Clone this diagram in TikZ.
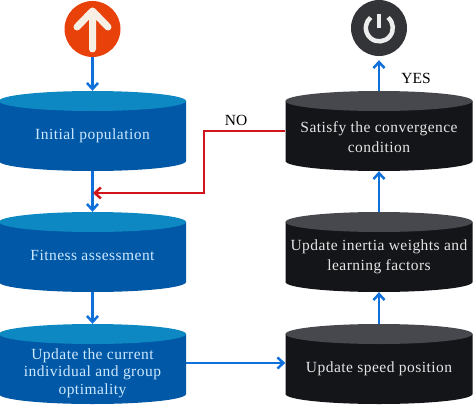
\documentclass[tikz,border=0pt]{standalone}
\usepackage{fontspec}
\setmainfont{Liberation Serif}
\usetikzlibrary{arrows.meta,calc}
\definecolor{bluebody}{HTML}{0058A6}
\definecolor{bluetop}{HTML}{0E88C2}
\definecolor{bluetext}{HTML}{CDE9FF}
\definecolor{darkbody}{HTML}{141518}
\definecolor{darktop}{HTML}{46484D}
\definecolor{link}{HTML}{0F70DC}
\definecolor{redlink}{HTML}{D2141B}
\definecolor{startred}{HTML}{E8420A}
\definecolor{iconwhite}{HTML}{F7EFE4}
\definecolor{enddark}{HTML}{333438}
\tikzset{
  x=1pt,y=-1pt,
  cyl/.style 2 args={shape=rectangle,minimum width=187pt,minimum height=80pt,inner sep=0pt,anchor=center,
    path picture={
      \fill[#1] ($(path picture bounding box.north west)+(0,10)$)
        -- ($(path picture bounding box.south west)+(0,-10)$)
        arc[x radius=93.5pt,y radius=10pt,start angle=180,end angle=360]
        -- ($(path picture bounding box.north east)+(0,10)$) -- cycle;
      \fill[#2] ($(path picture bounding box.north)+(0,10)$) ellipse[x radius=93.5pt,y radius=10pt];
    }},
  bluecyl/.style={cyl={bluebody}{bluetop}},
  darkcyl/.style={cyl={darkbody}{darktop}},
  txt/.style={inner sep=0pt,align=center,font=\fontsize{15.5}{18}\selectfont\addfontfeature{LetterSpace=3}},
  bluetxt/.style={txt,text=bluetext},
  darktxt/.style={txt,text=white!90!black},
  tipped/.style={line width=2.5pt,-{Straight Barb[length=6pt,width=11pt,line width=2.5pt]}},
  conn/.style={draw=link,tipped},
  redconn/.style={draw=redlink,tipped},
  tag/.style={font=\fontsize{15.5}{18}\selectfont,text=black,inner sep=0pt},
  circ/.style={shape=circle,minimum size=56pt,inner sep=0pt}
}
\begin{document}
\begin{tikzpicture}
\useasboundingbox (0,0) rectangle (473,404);
\node[circ,fill=startred] (start) at (92.5,29) {};
\draw[iconwhite,line width=7pt,line cap=round,line join=round] (92.5,49) -- (92.5,13) (77,27) -- (92.5,11) -- (108,27);
\node[circ,fill=enddark] (stop) at (379,28) {};
\draw[white!93!black,line width=4.5pt] (388,17.5) arc[start angle=-50,end angle=230,radius=13.5];
\draw[enddark,line width=8pt] (379,10) -- (379,26);
\draw[white!93!black,line width=4pt] (379,14) -- (379,28);
\node[bluecyl,label={[bluetxt,name=initt,yshift=-5pt]center:Initial population}] (init) at (92.5,131) {};
\node[bluecyl,label={[bluetxt,name=fitt,yshift=-3pt]center:Fitness assessment}] (fit) at (92.5,252) {};
\node[bluecyl,label={[bluetxt,name=updt,yshift=-9pt,font=\fontsize{15.5}{17.3}\selectfont\addfontfeature{LetterSpace=3}]center:{Update the current\\individual and group\\optimality}}] (upd) at (92.5,364) {};
\node[darkcyl,label={[darktxt,name=speedt,yshift=-5pt]center:Update speed position}] (speed) at (379,364) {};
\node[darkcyl,label={[darktxt,name=inertt,yshift=-5pt,font=\fontsize{15.5}{20}\selectfont\addfontfeature{LetterSpace=3}]center:{Update inertia weights and\\learning factors}}] (inert) at (379,252) {};
\node[darkcyl,label={[darktxt,name=satt,yshift=-6pt,font=\fontsize{15.5}{20}\selectfont\addfontfeature{LetterSpace=3}]center:{Satisfy the convergence\\condition}}] (sat) at (379,131) {};
\coordinate (merge) at (93,193);
\draw[conn] (start.south) -- (init.north);
\draw[conn] (init.south) -- (fit.north);
\draw[conn] (fit.south) -- (upd.north);
\draw[conn] ([yshift=1pt]upd.east) -- ([yshift=1pt]speed.west);
\draw[conn] (speed.north) -- (inert.south);
\draw[conn] (inert.north) -- (sat.south);
\draw[conn,shorten >=4pt] (sat.north) -- (stop.south);
\draw[redconn] (sat.west) -- (204,131) -- (204,193) -- (merge);
\node[tag] (no) at (236,120) {NO};
\node[tag] (yes) at (416,78) {YES};
\end{tikzpicture}
\end{document}
